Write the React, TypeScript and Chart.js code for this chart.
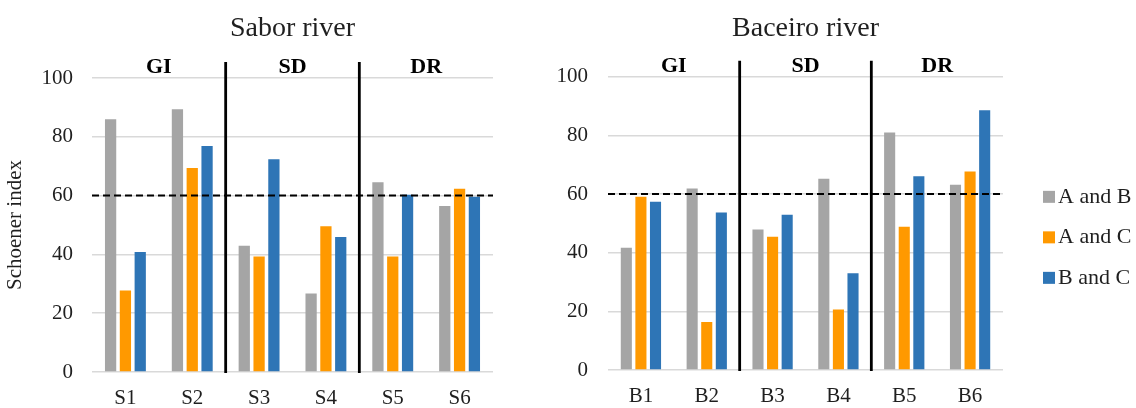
import React, { useEffect, useRef } from 'react';
import { Chart, registerables } from 'chart.js';

Chart.register(...registerables);

// Sampling sites per river
const saborSites = ['S1', 'S2', 'S3', 'S4', 'S5', 'S6'];
const baceiroSites = ['B1', 'B2', 'B3', 'B4', 'B5', 'B6'];

// Pairwise comparisons and their colours
const pairNames = ['A and B', 'A and C', 'B and C'];
const pairColors = ['#A5A5A5', '#FF9900', '#2E75B6'];

// Schoener index values, Sabor river
const saborAB = [86.0, 89.4, 42.9, 26.7, 64.5, 56.5];
const saborAC = [27.7, 69.4, 39.3, 49.6, 39.3, 62.3];
const saborBC = [40.8, 76.9, 72.4, 45.9, 60.3, 59.6];

// Schoener index values, Baceiro river
const baceiroAB = [41.7, 61.9, 47.9, 65.2, 81.0, 63.2];
const baceiroAC = [59.1, 16.4, 45.4, 20.6, 48.8, 67.7];
const baceiroBC = [57.4, 53.7, 52.9, 33.0, 66.1, 88.6];

// Site groups (two sites each) and the overlap threshold
const groupLabels = ['GI', 'SD', 'DR'];
const overlapThreshold = 60;

// Value axis
const yMin = 0;
const yMax = 100;
const yStep = 20;

const FONT = "'Liberation Serif', 'Times New Roman', serif";
const TEXT = '#1f1f1f';

// Dashed threshold line, group separators and group labels
const zonesPlugin = {
  id: 'riverZones',
  afterDatasetsDraw(chart: any) {
    const { ctx, chartArea, scales } = chart;
    const x = scales.x;
    const y = scales.y;
    ctx.save();
    const ty = y.getPixelForValue(overlapThreshold);
    ctx.strokeStyle = '#000';
    ctx.lineWidth = 2;
    ctx.setLineDash([7, 4]);
    ctx.beginPath();
    ctx.moveTo(chartArea.left, ty);
    ctx.lineTo(chartArea.right, ty);
    ctx.stroke();
    ctx.setLineDash([]);

    ctx.lineWidth = 2.8;
    [2, 4].forEach((i) => {
      const sx = (x.getPixelForValue(i - 1) + x.getPixelForValue(i)) / 2;
      ctx.beginPath();
      ctx.moveTo(sx, chartArea.top - 16);
      ctx.lineTo(sx, chartArea.bottom + 1);
      ctx.stroke();
    });

    ctx.fillStyle = '#000';
    ctx.font = `bold 22px ${FONT}`;
    ctx.textAlign = 'center';
    ctx.textBaseline = 'middle';
    groupLabels.forEach((g, k) => {
      const cx = (x.getPixelForValue(2 * k) + x.getPixelForValue(2 * k + 1)) / 2;
      ctx.fillText(g, cx, chartArea.top - 10.5);
    });
    ctx.restore();
  },
};

// Legend to the right of the plot
const sideLegendPlugin = {
  id: 'sideLegend',
  afterDraw(chart: any) {
    const { ctx, chartArea } = chart;
    const x0 = chartArea.right + 40;
    const midY = (chartArea.top + chartArea.bottom) / 2 + 14;
    ctx.save();
    ctx.font = `22px ${FONT}`;
    ctx.textAlign = 'left';
    ctx.textBaseline = 'middle';
    chart.data.datasets.forEach((ds: any, i: number) => {
      const cy = midY + (i - 1) * 40.5;
      ctx.fillStyle = ds.backgroundColor;
      ctx.fillRect(x0, cy - 6, 12, 12);
      ctx.fillStyle = TEXT;
      ctx.fillText(ds.label, x0 + 15, cy);
    });
    ctx.restore();
  },
};

type RiverProps = {
  title: string;
  labels: string[];
  series: number[][];
  left: number;
  width: number;
  yWidth: number;
  xHeight: number;
  titleBottom: number;
  padRight: number;
  yTitle?: string;
  tickPad: number;
  withLegend?: boolean;
};

function RiverChart(p: RiverProps) {
  const ref = useRef<HTMLCanvasElement>(null);
  useEffect(() => {
    if (!ref.current) return;
    const chart = new Chart(ref.current, {
      type: 'bar',
      data: {
        labels: p.labels,
        datasets: p.series.map((vals, i) => ({
          label: pairNames[i],
          data: vals,
          backgroundColor: pairColors[i],
          borderWidth: 0,
          categoryPercentage: 0.665,
          barPercentage: 0.76,
        })),
      },
      options: {
        responsive: false,
        animation: false,
        layout: { padding: { left: 0, right: p.padRight, top: 0, bottom: 0 } },
        plugins: {
          legend: { display: false },
          tooltip: { enabled: false },
          title: {
            display: true,
            text: p.title,
            fullSize: false,
            color: TEXT,
            font: { family: FONT, size: 28, weight: 'normal' },
            padding: { top: 12, bottom: p.titleBottom },
          },
        },
        scales: {
          x: {
            grid: { display: false },
            border: { display: false },
            ticks: { color: TEXT, font: { family: FONT, size: 21 }, padding: 6 },
            afterFit: (s: any) => {
              s.height = p.xHeight;
            },
          },
          y: {
            min: yMin,
            max: yMax,
            ticks: { stepSize: yStep, color: TEXT, font: { family: FONT, size: 21 }, padding: p.tickPad },
            grid: { color: '#D9D9D9', lineWidth: 1.5, drawTicks: false },
            border: { display: false },
            title: {
              display: !!p.yTitle,
              text: p.yTitle || '',
              color: TEXT,
              font: { family: FONT, size: 21 },
              padding: { top: 3, bottom: 0 },
            },
            afterFit: (s: any) => {
              s.width = p.yWidth;
            },
          },
        },
      } as any,
      plugins: p.withLegend ? [zonesPlugin, sideLegendPlugin] : [zonesPlugin],
    });
    return () => chart.destroy();
  }, []);
  return (
    <canvas
      ref={ref}
      width={p.width}
      height={408}
      style={{ position: 'absolute', left: p.left, top: 0, width: p.width, height: 408 }}
    />
  );
}

export default function App() {
  return (
    <div
      style={{
        position: 'absolute',
        left: 0,
        top: 0,
        width: 1136,
        height: 408,
        overflow: 'hidden',
        background: '#fff',
      }}
    >
      <RiverChart
        title="Sabor river"
        labels={saborSites}
        series={[saborAB, saborAC, saborBC]}
        left={0}
        width={540}
        yWidth={92}
        xHeight={36}
        titleBottom={32.4}
        padRight={47}
        yTitle="Schoener index"
        tickPad={19}
      />
      <RiverChart
        title="Baceiro river"
        labels={baceiroSites}
        series={[baceiroAB, baceiroAC, baceiroBC]}
        left={540}
        width={596}
        yWidth={68}
        xHeight={38}
        titleBottom={31.1}
        padRight={133}
        tickPad={20}
        withLegend
      />
    </div>
  );
}
